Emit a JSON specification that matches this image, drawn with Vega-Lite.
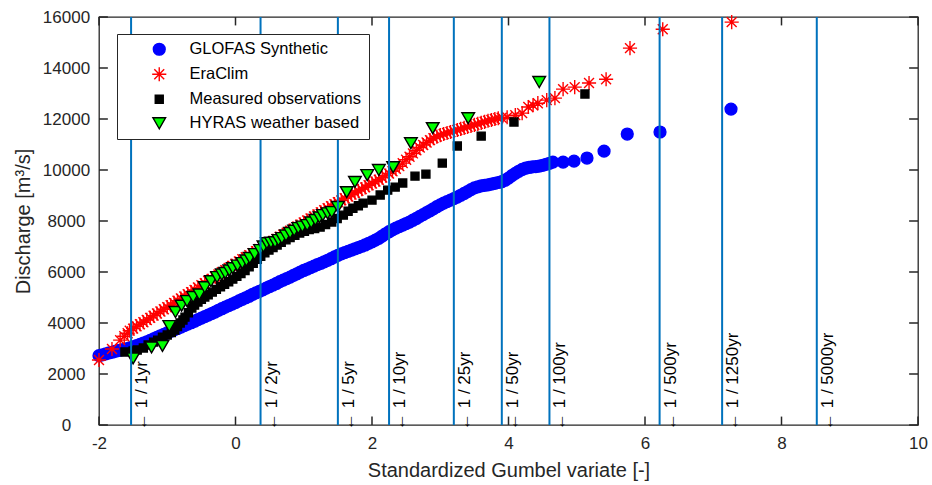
{
 "$schema": "https://vega.github.io/schema/vega-lite/v6.json",
 "width": 819, "height": 408,
 "autosize": {"type": "none"},
 "padding": {"left": 99, "top": 17, "right": 14, "bottom": 60},
 "background": "white",
 "config": {
  "view": {"stroke": "#262626", "strokeWidth": 1.3},
  "axis": {"domain": false, "ticks": false,
           "labelColor": "#262626", "labelFont": "Liberation Sans", "labelFontSize": 17, "labelOverlap": false, "labelFlush": false,
           "titleFont": "Liberation Sans", "titleFontSize": 20, "titleFontWeight": "normal", "titleColor": "#262626", "grid": false},
  "legend": {"orient": "none", "legendX": 18, "legendY": 17, "padding": 7, "strokeColor": "#262626", "fillColor": "white",
             "labelFont": "Liberation Sans", "labelFontSize": 16.5, "labelColor": "#000000", "labelLimit": 400,
             "symbolOffset": 27, "labelOffset": 22, "rowPadding": 6, "symbolStrokeWidth": 1.4}
 },
 "datasets": {
  "rp": [
   {"T": "1yr", "g": -1.53, "label": "← 1 / 1yr"},
   {"T": "2yr", "g": 0.367, "label": "← 1 / 2yr"},
   {"T": "5yr", "g": 1.5, "label": "← 1 / 5yr"},
   {"T": "10yr", "g": 2.25, "label": "← 1 / 10yr"},
   {"T": "25yr", "g": 3.199, "label": "← 1 / 25yr"},
   {"T": "50yr", "g": 3.902, "label": "← 1 / 50yr"},
   {"T": "100yr", "g": 4.6, "label": "← 1 / 100yr"},
   {"T": "500yr", "g": 6.214, "label": "← 1 / 500yr"},
   {"T": "1250yr", "g": 7.13, "label": "← 1 / 1250yr"},
   {"T": "5000yr", "g": 8.517, "label": "← 1 / 5000yr"}
  ],
  "xticks": [{"tv": -2}, {"tv": 0}, {"tv": 2}, {"tv": 4}, {"tv": 6}, {"tv": 8}, {"tv": 10}],
  "yticks": [{"tv": 0}, {"tv": 2000}, {"tv": 4000}, {"tv": 6000}, {"tv": 8000}, {"tv": 10000}, {"tv": 12000}, {"tv": 14000}, {"tv": 16000}],
  "names": [
   {"s": "G", "series": "GLOFAS Synthetic"},
   {"s": "E", "series": "EraClim"},
   {"s": "M", "series": "Measured observations"},
   {"s": "H", "series": "HYRAS weather based"}
  ],
  "pts": [
   {"s":"G","x":-2.00,"y":2720},{"s":"G","x":-1.95,"y":2750},{"s":"G","x":-1.90,"y":2790},{"s":"G","x":-1.85,"y":2830},
   {"s":"G","x":-1.80,"y":2860},{"s":"G","x":-1.75,"y":2900},{"s":"G","x":-1.70,"y":2930},{"s":"G","x":-1.65,"y":2960},
   {"s":"G","x":-1.60,"y":2990},{"s":"G","x":-1.55,"y":3020},{"s":"G","x":-1.50,"y":3060},{"s":"G","x":-1.45,"y":3110},
   {"s":"G","x":-1.40,"y":3160},{"s":"G","x":-1.35,"y":3210},{"s":"G","x":-1.30,"y":3260},{"s":"G","x":-1.25,"y":3320},
   {"s":"G","x":-1.20,"y":3380},{"s":"G","x":-1.15,"y":3440},{"s":"G","x":-1.10,"y":3500},{"s":"G","x":-1.05,"y":3550},
   {"s":"G","x":-1.00,"y":3610},{"s":"G","x":-0.95,"y":3670},{"s":"G","x":-0.90,"y":3730},{"s":"G","x":-0.85,"y":3780},
   {"s":"G","x":-0.80,"y":3840},{"s":"G","x":-0.75,"y":3900},{"s":"G","x":-0.70,"y":3960},{"s":"G","x":-0.65,"y":4010},
   {"s":"G","x":-0.60,"y":4070},{"s":"G","x":-0.55,"y":4130},{"s":"G","x":-0.50,"y":4190},{"s":"G","x":-0.45,"y":4250},
   {"s":"G","x":-0.40,"y":4310},{"s":"G","x":-0.35,"y":4370},{"s":"G","x":-0.30,"y":4430},{"s":"G","x":-0.25,"y":4500},
   {"s":"G","x":-0.20,"y":4560},{"s":"G","x":-0.15,"y":4620},{"s":"G","x":-0.10,"y":4680},{"s":"G","x":-0.05,"y":4740},
   {"s":"G","x":0.00,"y":4800},{"s":"G","x":0.05,"y":4870},{"s":"G","x":0.10,"y":4930},{"s":"G","x":0.15,"y":4990},
   {"s":"G","x":0.20,"y":5050},{"s":"G","x":0.25,"y":5120},{"s":"G","x":0.30,"y":5180},{"s":"G","x":0.35,"y":5240},
   {"s":"G","x":0.40,"y":5300},{"s":"G","x":0.45,"y":5370},{"s":"G","x":0.50,"y":5430},{"s":"G","x":0.55,"y":5490},
   {"s":"G","x":0.60,"y":5550},{"s":"G","x":0.65,"y":5620},{"s":"G","x":0.70,"y":5680},{"s":"G","x":0.75,"y":5740},
   {"s":"G","x":0.80,"y":5800},{"s":"G","x":0.85,"y":5870},{"s":"G","x":0.90,"y":5930},{"s":"G","x":0.95,"y":6000},
   {"s":"G","x":1.00,"y":6060},{"s":"G","x":1.05,"y":6110},{"s":"G","x":1.10,"y":6170},{"s":"G","x":1.15,"y":6230},
   {"s":"G","x":1.20,"y":6290},{"s":"G","x":1.25,"y":6340},{"s":"G","x":1.30,"y":6400},{"s":"G","x":1.35,"y":6460},
   {"s":"G","x":1.40,"y":6520},{"s":"G","x":1.45,"y":6590},{"s":"G","x":1.50,"y":6650},{"s":"G","x":1.55,"y":6710},
   {"s":"G","x":1.60,"y":6760},{"s":"G","x":1.65,"y":6810},{"s":"G","x":1.70,"y":6860},{"s":"G","x":1.75,"y":6910},
   {"s":"G","x":1.80,"y":6960},{"s":"G","x":1.85,"y":7010},{"s":"G","x":1.90,"y":7060},{"s":"G","x":1.95,"y":7120},
   {"s":"G","x":2.00,"y":7180},{"s":"G","x":2.05,"y":7250},{"s":"G","x":2.10,"y":7320},{"s":"G","x":2.15,"y":7410},
   {"s":"G","x":2.20,"y":7500},{"s":"G","x":2.25,"y":7580},{"s":"G","x":2.30,"y":7650},{"s":"G","x":2.35,"y":7720},
   {"s":"G","x":2.40,"y":7780},{"s":"G","x":2.45,"y":7840},{"s":"G","x":2.50,"y":7900},{"s":"G","x":2.55,"y":7960},
   {"s":"G","x":2.60,"y":8030},{"s":"G","x":2.65,"y":8100},{"s":"G","x":2.70,"y":8180},{"s":"G","x":2.75,"y":8250},
   {"s":"G","x":2.80,"y":8330},{"s":"G","x":2.85,"y":8400},{"s":"G","x":2.90,"y":8480},{"s":"G","x":2.95,"y":8560},
   {"s":"G","x":3.00,"y":8630},{"s":"G","x":3.05,"y":8700},{"s":"G","x":3.10,"y":8760},{"s":"G","x":3.15,"y":8820},
   {"s":"G","x":3.20,"y":8880},{"s":"G","x":3.25,"y":8940},{"s":"G","x":3.30,"y":9010},{"s":"G","x":3.35,"y":9080},
   {"s":"G","x":3.40,"y":9150},{"s":"G","x":3.45,"y":9230},{"s":"G","x":3.50,"y":9300},{"s":"G","x":3.55,"y":9340},
   {"s":"G","x":3.60,"y":9380},{"s":"G","x":3.65,"y":9400},{"s":"G","x":3.70,"y":9420},{"s":"G","x":3.75,"y":9450},
   {"s":"G","x":3.80,"y":9480},{"s":"G","x":3.85,"y":9510},{"s":"G","x":3.90,"y":9540},{"s":"G","x":3.95,"y":9600},
   {"s":"G","x":4.00,"y":9680},{"s":"G","x":4.05,"y":9780},{"s":"G","x":4.10,"y":9870},{"s":"G","x":4.15,"y":9950},
   {"s":"G","x":4.20,"y":10020},{"s":"G","x":4.25,"y":10070},{"s":"G","x":4.30,"y":10100},{"s":"G","x":4.35,"y":10120},
   {"s":"G","x":4.40,"y":10130},{"s":"G","x":4.45,"y":10150},{"s":"G","x":4.50,"y":10180},{"s":"G","x":4.55,"y":10220},
   {"s":"G","x":4.60,"y":10260},{"s":"G","x":4.65,"y":10310},{"s":"G","x":4.80,"y":10310},{"s":"G","x":4.96,"y":10350},
   {"s":"G","x":5.15,"y":10470},{"s":"G","x":5.40,"y":10740},{"s":"G","x":5.74,"y":11410},{"s":"G","x":6.22,"y":11490},
   {"s":"G","x":7.26,"y":12390},

   {"s":"E","x":-2.00,"y":2550},{"s":"E","x":-1.81,"y":2980},{"s":"E","x":-1.69,"y":3330},{"s":"E","x":-1.63,"y":3480},
   {"s":"E","x":-1.58,"y":3600},{"s":"E","x":-1.55,"y":3700},{"s":"E","x":-1.50,"y":3780},{"s":"E","x":-1.45,"y":3870},
   {"s":"E","x":-1.40,"y":3950},{"s":"E","x":-1.35,"y":4030},{"s":"E","x":-1.30,"y":4120},{"s":"E","x":-1.25,"y":4200},
   {"s":"E","x":-1.20,"y":4290},{"s":"E","x":-1.15,"y":4370},{"s":"E","x":-1.10,"y":4450},{"s":"E","x":-1.05,"y":4540},
   {"s":"E","x":-1.00,"y":4620},{"s":"E","x":-0.95,"y":4700},{"s":"E","x":-0.90,"y":4790},{"s":"E","x":-0.85,"y":4870},
   {"s":"E","x":-0.80,"y":4960},{"s":"E","x":-0.75,"y":5040},{"s":"E","x":-0.70,"y":5130},{"s":"E","x":-0.65,"y":5210},
   {"s":"E","x":-0.60,"y":5300},{"s":"E","x":-0.55,"y":5390},{"s":"E","x":-0.50,"y":5480},{"s":"E","x":-0.45,"y":5560},
   {"s":"E","x":-0.40,"y":5650},{"s":"E","x":-0.35,"y":5730},{"s":"E","x":-0.30,"y":5820},{"s":"E","x":-0.25,"y":5900},
   {"s":"E","x":-0.20,"y":5990},{"s":"E","x":-0.15,"y":6070},{"s":"E","x":-0.10,"y":6160},{"s":"E","x":-0.05,"y":6240},
   {"s":"E","x":0.00,"y":6330},{"s":"E","x":0.05,"y":6410},{"s":"E","x":0.10,"y":6500},{"s":"E","x":0.15,"y":6580},
   {"s":"E","x":0.20,"y":6660},{"s":"E","x":0.25,"y":6740},{"s":"E","x":0.30,"y":6820},{"s":"E","x":0.35,"y":6900},
   {"s":"E","x":0.40,"y":6980},{"s":"E","x":0.45,"y":7060},{"s":"E","x":0.50,"y":7140},{"s":"E","x":0.55,"y":7220},
   {"s":"E","x":0.60,"y":7300},{"s":"E","x":0.65,"y":7380},{"s":"E","x":0.70,"y":7460},{"s":"E","x":0.75,"y":7540},
   {"s":"E","x":0.80,"y":7620},{"s":"E","x":0.85,"y":7700},{"s":"E","x":0.90,"y":7780},{"s":"E","x":0.95,"y":7860},
   {"s":"E","x":1.00,"y":7940},{"s":"E","x":1.05,"y":8020},{"s":"E","x":1.10,"y":8100},{"s":"E","x":1.15,"y":8180},
   {"s":"E","x":1.20,"y":8260},{"s":"E","x":1.25,"y":8340},{"s":"E","x":1.30,"y":8420},{"s":"E","x":1.35,"y":8500},
   {"s":"E","x":1.40,"y":8580},{"s":"E","x":1.45,"y":8660},{"s":"E","x":1.50,"y":8740},{"s":"E","x":1.55,"y":8810},
   {"s":"E","x":1.60,"y":8890},{"s":"E","x":1.65,"y":8960},{"s":"E","x":1.70,"y":9040},{"s":"E","x":1.75,"y":9110},
   {"s":"E","x":1.80,"y":9180},{"s":"E","x":1.85,"y":9250},{"s":"E","x":1.90,"y":9320},{"s":"E","x":1.95,"y":9400},
   {"s":"E","x":2.00,"y":9470},{"s":"E","x":2.05,"y":9550},{"s":"E","x":2.10,"y":9620},{"s":"E","x":2.15,"y":9700},
   {"s":"E","x":2.20,"y":9780},{"s":"E","x":2.25,"y":9860},{"s":"E","x":2.30,"y":9950},{"s":"E","x":2.35,"y":10050},
   {"s":"E","x":2.40,"y":10150},{"s":"E","x":2.45,"y":10270},{"s":"E","x":2.50,"y":10400},{"s":"E","x":2.55,"y":10520},
   {"s":"E","x":2.60,"y":10650},{"s":"E","x":2.65,"y":10770},{"s":"E","x":2.70,"y":10880},{"s":"E","x":2.75,"y":10980},
   {"s":"E","x":2.80,"y":11080},{"s":"E","x":2.85,"y":11170},{"s":"E","x":2.90,"y":11250},{"s":"E","x":2.95,"y":11310},
   {"s":"E","x":3.00,"y":11370},{"s":"E","x":3.05,"y":11410},{"s":"E","x":3.10,"y":11450},{"s":"E","x":3.15,"y":11490},
   {"s":"E","x":3.20,"y":11530},{"s":"E","x":3.25,"y":11570},{"s":"E","x":3.30,"y":11610},{"s":"E","x":3.35,"y":11650},
   {"s":"E","x":3.40,"y":11690},{"s":"E","x":3.45,"y":11730},{"s":"E","x":3.50,"y":11770},{"s":"E","x":3.55,"y":11810},
   {"s":"E","x":3.60,"y":11850},{"s":"E","x":3.65,"y":11890},{"s":"E","x":3.70,"y":11930},{"s":"E","x":3.75,"y":11960},
   {"s":"E","x":3.80,"y":12000},{"s":"E","x":3.85,"y":12030},{"s":"E","x":3.90,"y":12050},{"s":"E","x":3.98,"y":12070},
   {"s":"E","x":4.10,"y":12150},{"s":"E","x":4.20,"y":12230},{"s":"E","x":4.29,"y":12470},{"s":"E","x":4.36,"y":12540},
   {"s":"E","x":4.43,"y":12620},{"s":"E","x":4.56,"y":12740},{"s":"E","x":4.68,"y":12820},{"s":"E","x":4.80,"y":13170},
   {"s":"E","x":4.97,"y":13250},{"s":"E","x":5.18,"y":13410},{"s":"E","x":5.43,"y":13560},{"s":"E","x":5.78,"y":14780},
   {"s":"E","x":6.26,"y":15520},{"s":"E","x":7.27,"y":15800},

   {"s":"M","x":-1.62,"y":2860},{"s":"M","x":-1.50,"y":2900},{"s":"M","x":-1.44,"y":2940},{"s":"M","x":-1.35,"y":3020},
   {"s":"M","x":-1.28,"y":3140},{"s":"M","x":-1.20,"y":3250},{"s":"M","x":-1.14,"y":3330},{"s":"M","x":-1.07,"y":3440},
   {"s":"M","x":-1.00,"y":3530},{"s":"M","x":-0.94,"y":3630},{"s":"M","x":-0.89,"y":3720},{"s":"M","x":-0.85,"y":3860},
   {"s":"M","x":-0.81,"y":4000},{"s":"M","x":-0.77,"y":4120},{"s":"M","x":-0.74,"y":4230},{"s":"M","x":-0.69,"y":4400},
   {"s":"M","x":-0.64,"y":4590},{"s":"M","x":-0.60,"y":4700},{"s":"M","x":-0.55,"y":4820},{"s":"M","x":-0.50,"y":4930},
   {"s":"M","x":-0.45,"y":5020},{"s":"M","x":-0.40,"y":5110},{"s":"M","x":-0.34,"y":5210},{"s":"M","x":-0.28,"y":5320},
   {"s":"M","x":-0.22,"y":5420},{"s":"M","x":-0.16,"y":5520},{"s":"M","x":-0.10,"y":5620},{"s":"M","x":-0.04,"y":5720},
   {"s":"M","x":0.02,"y":5830},{"s":"M","x":0.08,"y":5940},{"s":"M","x":0.14,"y":6060},{"s":"M","x":0.20,"y":6200},
   {"s":"M","x":0.26,"y":6340},{"s":"M","x":0.32,"y":6500},{"s":"M","x":0.37,"y":6620},{"s":"M","x":0.43,"y":6750},
   {"s":"M","x":0.49,"y":6860},{"s":"M","x":0.55,"y":6960},{"s":"M","x":0.61,"y":7060},{"s":"M","x":0.67,"y":7160},
   {"s":"M","x":0.74,"y":7260},{"s":"M","x":0.80,"y":7350},{"s":"M","x":0.87,"y":7440},{"s":"M","x":0.94,"y":7530},
   {"s":"M","x":1.01,"y":7600},{"s":"M","x":1.08,"y":7660},{"s":"M","x":1.16,"y":7700},{"s":"M","x":1.24,"y":7760},
   {"s":"M","x":1.32,"y":7860},{"s":"M","x":1.41,"y":7960},{"s":"M","x":1.49,"y":8100},{"s":"M","x":1.58,"y":8230},
   {"s":"M","x":1.65,"y":8380},{"s":"M","x":1.72,"y":8500},{"s":"M","x":1.80,"y":8600},{"s":"M","x":1.87,"y":8700},
   {"s":"M","x":2.00,"y":8820},{"s":"M","x":2.12,"y":9020},{"s":"M","x":2.23,"y":9210},{"s":"M","x":2.34,"y":9330},
   {"s":"M","x":2.45,"y":9490},{"s":"M","x":2.63,"y":9760},{"s":"M","x":2.79,"y":9840},{"s":"M","x":3.03,"y":10270},
   {"s":"M","x":3.25,"y":10940},{"s":"M","x":3.60,"y":11330},{"s":"M","x":4.08,"y":11880},{"s":"M","x":5.12,"y":12980},

   {"s":"H","x":-1.50,"y":2610},{"s":"H","x":-1.23,"y":3040},{"s":"H","x":-1.07,"y":3100},{"s":"H","x":-0.97,"y":3880},
   {"s":"H","x":-0.88,"y":4430},{"s":"H","x":-0.79,"y":4680},{"s":"H","x":-0.71,"y":4860},{"s":"H","x":-0.62,"y":5020},
   {"s":"H","x":-0.53,"y":5120},{"s":"H","x":-0.45,"y":5400},{"s":"H","x":-0.36,"y":5640},{"s":"H","x":-0.27,"y":5800},
   {"s":"H","x":-0.20,"y":5900},{"s":"H","x":-0.15,"y":5960},{"s":"H","x":-0.09,"y":6060},{"s":"H","x":-0.04,"y":6150},
   {"s":"H","x":0.03,"y":6250},{"s":"H","x":0.10,"y":6350},{"s":"H","x":0.16,"y":6450},{"s":"H","x":0.21,"y":6550},
   {"s":"H","x":0.28,"y":6700},{"s":"H","x":0.36,"y":6860},{"s":"H","x":0.41,"y":7000},{"s":"H","x":0.46,"y":7130},
   {"s":"H","x":0.52,"y":7150},{"s":"H","x":0.58,"y":7170},{"s":"H","x":0.63,"y":7250},{"s":"H","x":0.68,"y":7330},
   {"s":"H","x":0.74,"y":7430},{"s":"H","x":0.80,"y":7530},{"s":"H","x":0.86,"y":7620},{"s":"H","x":0.92,"y":7720},
   {"s":"H","x":0.98,"y":7780},{"s":"H","x":1.05,"y":7840},{"s":"H","x":1.11,"y":7940},{"s":"H","x":1.17,"y":8040},
   {"s":"H","x":1.23,"y":8140},{"s":"H","x":1.28,"y":8230},{"s":"H","x":1.35,"y":8300},{"s":"H","x":1.41,"y":8350},
   {"s":"H","x":1.50,"y":8550},{"s":"H","x":1.63,"y":9130},{"s":"H","x":1.75,"y":9530},{"s":"H","x":1.93,"y":9800},
   {"s":"H","x":2.10,"y":10000},{"s":"H","x":2.31,"y":10110},{"s":"H","x":2.57,"y":11050},{"s":"H","x":2.89,"y":11640},
   {"s":"H","x":3.41,"y":12030},{"s":"H","x":4.45,"y":13450}
  ]
 },
 "layer": [
  {
   "data": {"name": "xticks"},
   "mark": {"type": "rule", "color": "#262626", "strokeWidth": 1.5},
   "encoding": {
    "x": {"field": "tv", "type": "quantitative", "scale": {"domain": [-2, 10], "nice": false, "zero": false}, "axis": null},
    "y": {"datum": 0, "type": "quantitative", "scale": {"domain": [0, 16000], "nice": false}, "axis": null},
    "y2": {"datum": 330}
   }
  },
  {
   "data": {"name": "xticks"},
   "mark": {"type": "rule", "color": "#262626", "strokeWidth": 1.5},
   "encoding": {
    "x": {"field": "tv", "type": "quantitative", "axis": null},
    "y": {"datum": 15670, "type": "quantitative", "axis": null},
    "y2": {"datum": 16000}
   }
  },
  {
   "data": {"name": "yticks"},
   "mark": {"type": "rule", "color": "#262626", "strokeWidth": 1.5},
   "encoding": {
    "y": {"field": "tv", "type": "quantitative", "axis": null},
    "x": {"datum": -2, "type": "quantitative", "axis": null},
    "x2": {"datum": -1.87}
   }
  },
  {
   "data": {"name": "yticks"},
   "mark": {"type": "rule", "color": "#262626", "strokeWidth": 1.5},
   "encoding": {
    "y": {"field": "tv", "type": "quantitative", "axis": null},
    "x": {"datum": 9.87, "type": "quantitative", "axis": null},
    "x2": {"datum": 10}
   }
  },
  {
   "data": {"name": "pts"},
   "transform": [{"lookup": "s", "from": {"data": {"name": "names"}, "key": "s", "fields": ["series"]}}],
   "mark": {"type": "point", "filled": true, "opacity": 1, "strokeWidth": 1.4},
   "encoding": {
    "x": {"field": "x", "type": "quantitative", "scale": {"domain": [-2, 10], "nice": false, "zero": false},
          "axis": {"orient": "bottom", "values": [-2, 0, 2, 4, 6, 8, 10], "labelExpr": "'' + datum.value", "labelPadding": 10,
                   "title": "Standardized Gumbel variate [-]", "titleBaseline": "alphabetic", "titleY": 51, "titleX": 409.5}},
    "y": {"field": "y", "type": "quantitative", "scale": {"domain": [0, 16000], "nice": false},
          "axis": {"orient": "left", "values": [0, 2000, 4000, 6000, 8000, 10000, 12000, 14000, 16000], "labelExpr": "'' + datum.value",
                   "labelPadding": 33, "labelAlign": "center",
                   "title": "Discharge [m³/s]", "titleX": -66, "titleY": 204, "titleAngle": 270, "titleAlign": "center", "titleBaseline": "bottom"}},
    "fill": {"field": "series", "type": "nominal",
             "scale": {"domain": ["GLOFAS Synthetic", "EraClim", "Measured observations", "HYRAS weather based"], "range": ["#0000ff", "#ff0000", "#000000", "#00ff00"]},
             "legend": {"title": null}},
    "stroke": {"field": "series", "type": "nominal",
             "scale": {"domain": ["GLOFAS Synthetic", "EraClim", "Measured observations", "HYRAS weather based"], "range": ["#0000ff", "#ff0000", "#000000", "#000000"]},
             "legend": {"title": null}},
    "shape": {"field": "series", "type": "nominal",
             "scale": {"domain": ["GLOFAS Synthetic", "EraClim", "Measured observations", "HYRAS weather based"],
                       "range": ["circle", "M-1,0L1,0M0,-1L0,1M-0.7,-0.7L0.7,0.7M-0.7,0.7L0.7,-0.7", "square", "triangle-down"]},
             "legend": {"title": null}},
    "size": {"field": "series", "type": "nominal",
             "scale": {"type": "ordinal", "domain": ["GLOFAS Synthetic", "EraClim", "Measured observations", "HYRAS weather based"], "range": [140, 200, 64, 160]},
             "legend": {"title": null}}
   }
  },
  {
   "data": {"name": "rp"},
   "mark": {"type": "rule", "color": "#0072BD", "strokeWidth": 2},
   "encoding": {
    "x": {"field": "g", "type": "quantitative", "axis": null}
   }
  },
  {
   "data": {"name": "rp"},
   "mark": {"type": "text", "angle": 270, "align": "left", "baseline": "top", "dx": -5, "dy": 3, "font": "Liberation Sans", "fontSize": 17, "color": "#000000"},
   "encoding": {
    "x": {"field": "g", "type": "quantitative", "axis": null},
    "y": {"datum": 0, "type": "quantitative", "axis": null},
    "text": {"field": "label"}
   }
  }
 ],
 "resolve": {"axis": {"x": "independent", "y": "independent"}}
}
